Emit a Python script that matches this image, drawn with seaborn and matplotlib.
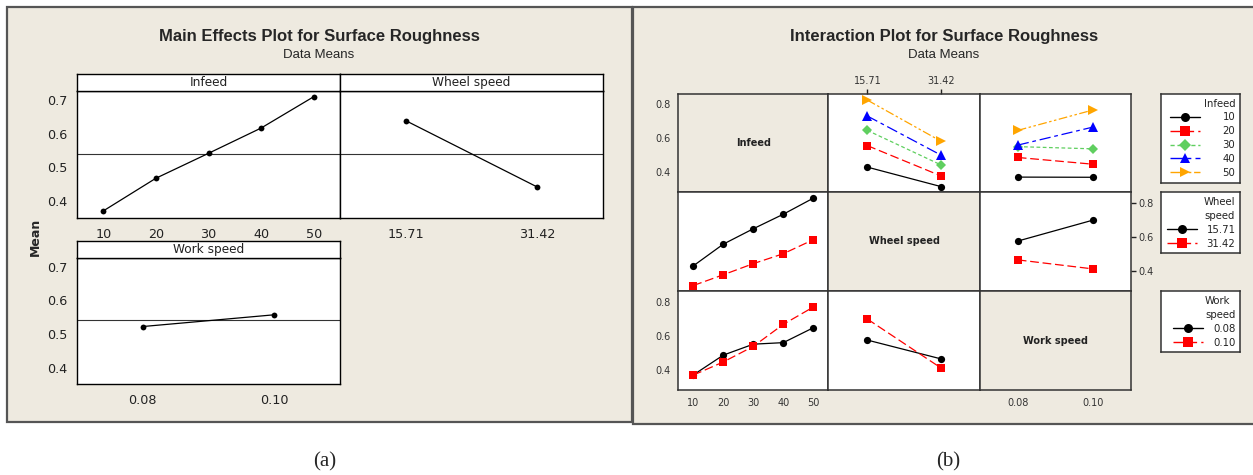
import numpy as np
import pandas as pd
import matplotlib
matplotlib.use("Agg")
import matplotlib.pyplot as plt
import seaborn as sns
from matplotlib.patches import Rectangle
from matplotlib.lines import Line2D

sns.set_theme(style="white")
plt.rcParams["font.family"] = ["DejaVu Sans"]

# ---------------- data ----------------
infeed_levels = [10, 20, 30, 40, 50]
wheel_levels = ["15.71", "31.42"]
work_levels = ["0.08", "0.10"]

# main effects (data means)
infeed_means = [0.371, 0.468, 0.542, 0.617, 0.710]
wheel_means = [0.639, 0.442]
work_means = [0.522, 0.557]
grand_mean = 0.540

# interaction means
infeed_by_wheel_1571 = [0.430, 0.557, 0.647, 0.732, 0.826]
infeed_by_wheel_3142 = [0.315, 0.378, 0.443, 0.501, 0.583]
infeed_by_work_008 = [0.371, 0.487, 0.551, 0.560, 0.647]
infeed_by_work_010 = [0.370, 0.447, 0.538, 0.667, 0.768]
wheel_by_work_008 = [0.575, 0.465]
wheel_by_work_010 = [0.698, 0.412]

# ---------------- styles ----------------
W, H = 1253, 475
BEIGE = "#EEEAE0"
EDGE = "#555555"

infeed_keys = [str(v) for v in infeed_levels]
infeed_pal = dict(zip(infeed_keys, ["black", "#FF0000", "#5FCF5F", "#0000FF", "#FFA500"]))
infeed_mark = dict(zip(infeed_keys, ["o", "s", "D", "^", ">"]))
infeed_dash = dict(zip(infeed_keys, ["", (7, 3), (3, 2), (9, 3, 3, 3), (7, 2, 2, 2, 2, 2)]))
two_pal = ["black", "#FF0000"]
two_mark = ["o", "s"]
two_dash = ["", (7, 3)]
wheel_pal = dict(zip(wheel_levels, two_pal))
wheel_mark = dict(zip(wheel_levels, two_mark))
wheel_dash = dict(zip(wheel_levels, two_dash))
work_pal = dict(zip(work_levels, two_pal))
work_mark = dict(zip(work_levels, two_mark))
work_dash = dict(zip(work_levels, two_dash))
marker_size = {"o": 5.2, "s": 5.2, "D": 5.5, "^": 7.0, ">": 7.0}

# ---------------- tables ----------------
df_inf_wheel = pd.DataFrame({
    "Infeed": infeed_levels * 2,
    "InfeedLab": infeed_keys * 2,
    "Wheel": [wheel_levels[0]] * 5 + [wheel_levels[1]] * 5,
    "Mean": infeed_by_wheel_1571 + infeed_by_wheel_3142,
})
df_inf_wheel["WheelPos"] = df_inf_wheel["Wheel"].map(wheel_levels.index)

df_inf_work = pd.DataFrame({
    "Infeed": infeed_levels * 2,
    "InfeedLab": infeed_keys * 2,
    "Work": [work_levels[0]] * 5 + [work_levels[1]] * 5,
    "Mean": infeed_by_work_008 + infeed_by_work_010,
})
df_inf_work["WorkPos"] = df_inf_work["Work"].map(work_levels.index)

df_wheel_work = pd.DataFrame({
    "Wheel": wheel_levels * 2,
    "Work": [work_levels[0]] * 2 + [work_levels[1]] * 2,
    "Mean": wheel_by_work_008 + wheel_by_work_010,
})
df_wheel_work["WheelPos"] = df_wheel_work["Wheel"].map(wheel_levels.index)
df_wheel_work["WorkPos"] = df_wheel_work["Work"].map(work_levels.index)

df_me_wheel = pd.DataFrame({"Wheel": wheel_levels, "Mean": wheel_means})
df_me_wheel["Pos"] = df_me_wheel["Wheel"].map(wheel_levels.index)
df_me_work = pd.DataFrame({"Work": work_levels, "Mean": work_means})
df_me_work["Pos"] = df_me_work["Work"].map(work_levels.index)
df_me_inf = pd.DataFrame({"Infeed": infeed_levels, "Mean": infeed_means})

# ---------------- figure ----------------
fig = plt.figure(figsize=(W / 100, H / 100), dpi=100)
fig.patch.set_facecolor("white")


def px(x0, y0, x1, y1, **kw):
    return fig.add_axes([x0 / W, 1 - y1 / H, (x1 - x0) / W, (y1 - y0) / H], **kw)


def frame(x0, y0, x1, y1):
    fig.add_artist(Rectangle((x0 / W, 1 - y1 / H), (x1 - x0) / W, (y1 - y0) / H,
                             transform=fig.transFigure, facecolor=BEIGE,
                             edgecolor=EDGE, lw=1.6, zorder=-5))


frame(6.5, 6.5, 632, 422)
frame(632.5, 6.5, 1262, 424)

TFONT = ["Liberation Sans", "DejaVu Sans"]
fig.text(319 / W, 1 - 37 / H, "Main Effects Plot for Surface Roughness", family=TFONT,
         fontsize=12, fontweight="bold", ha="center", va="center")
fig.text(319 / W, 1 - 55 / H, "Data Means", family=TFONT, fontsize=9.5, ha="center", va="center")
fig.text(944 / W, 1 - 37 / H, "Interaction Plot for Surface Roughness", family=TFONT,
         fontsize=12, fontweight="bold", ha="center", va="center")
fig.text(944 / W, 1 - 55 / H, "Data Means", family=TFONT, fontsize=9.5, ha="center", va="center")
fig.text(35 / W, 1 - 237 / H, "Mean", rotation=90, fontsize=9, fontweight="bold",
         ha="center", va="center")
fig.text(325 / W, 1 - 462 / H, "(a)", family=["Liberation Serif", "DejaVu Serif"], fontsize=15,
         ha="center", va="center")
fig.text(948 / W, 1 - 462 / H, "(b)", family=["Liberation Serif", "DejaVu Serif"], fontsize=15,
         ha="center", va="center")

# ---------------- main effects ----------------
ME_YLIM = (0.35, 0.727)
ME_TICKS = [0.4, 0.5, 0.6, 0.7]


def style_me(ax):
    ax.set_facecolor("white")
    for s in ax.spines.values():
        s.set_color("black")
        s.set_linewidth(1.0)
    ax.set_ylim(*ME_YLIM)
    ax.set_xlabel("")
    ax.set_ylabel("")
    ax.tick_params(axis="both", direction="out", length=4, width=1, color="black",
                   labelsize=9.2, labelcolor="#222222", pad=3)


def strip(x0, y0, x1, y1, label):
    s = px(x0, y0, x1, y1)
    s.set_facecolor("white")
    s.set_xticks([])
    s.set_yticks([])
    for sp in s.spines.values():
        sp.set_color("black")
        sp.set_linewidth(1.0)
    s.text(0.5, 0.5, label, ha="center", va="center", fontsize=8.7, color="#222222",
           transform=s.transAxes)


me_kw = dict(color="black", marker="o", markersize=4.2, linewidth=0.9,
             markeredgewidth=0, legend=False)

ax_inf = px(77, 91, 340, 218)
sns.lineplot(data=df_me_inf, x="Infeed", y="Mean", ax=ax_inf, **me_kw)
ax_inf.axhline(grand_mean, color="#333333", lw=0.8, zorder=1)
style_me(ax_inf)
ax_inf.set_xlim(5, 55)
ax_inf.set_xticks(infeed_levels)
ax_inf.set_yticks(ME_TICKS)
strip(77, 74, 340, 91, "Infeed")

ax_wh = px(340, 91, 603, 218)
sns.lineplot(data=df_me_wheel, x="Pos", y="Mean", ax=ax_wh, **me_kw)
ax_wh.axhline(grand_mean, color="#333333", lw=0.8, zorder=1)
style_me(ax_wh)
ax_wh.set_xlim(-0.5, 1.5)
ax_wh.set_xticks(range(len(wheel_levels)))
ax_wh.set_xticklabels(wheel_levels)
ax_wh.set_yticks([])
strip(340, 74, 603, 91, "Wheel speed")

ax_wk = px(77, 257.7, 340, 384.3)
sns.lineplot(data=df_me_work, x="Pos", y="Mean", ax=ax_wk, **me_kw)
ax_wk.axhline(grand_mean, color="#333333", lw=0.8, zorder=1)
style_me(ax_wk)
ax_wk.set_xlim(-0.5, 1.5)
ax_wk.set_xticks(range(len(work_levels)))
ax_wk.set_xticklabels(work_levels)
ax_wk.set_yticks(ME_TICKS)
strip(77, 241, 340, 257.7, "Work speed")

# ---------------- interaction plot ----------------
cols = [678.3, 828.3, 980, 1131]
rows = [94, 192, 291, 390]
IN_YLIM = (0.283, 0.862)
IN_YT = [0.4, 0.6, 0.8]
xlims = [(5, 55), (-0.53, 1.53), (-0.5, 1.5)]
diag = ["Infeed", "Wheel speed", "Work speed"]

cells = [[None] * 3 for _ in range(3)]
for i in range(3):
    for j in range(3):
        a = px(cols[j], rows[i], cols[j + 1], rows[i + 1])
        a.set_facecolor(BEIGE if i == j else "white")
        for s in a.spines.values():
            s.set_color("#333333")
            s.set_linewidth(1.1)
        cells[i][j] = a

lk = dict(linewidth=0.9, markersize=5.2, markeredgewidth=0, legend=False)

sns.lineplot(data=df_inf_wheel, x="WheelPos", y="Mean", hue="InfeedLab", style="InfeedLab",
             palette=infeed_pal, markers=infeed_mark, dashes=infeed_dash,
             hue_order=infeed_keys, style_order=infeed_keys, ax=cells[0][1], **lk)
sns.lineplot(data=df_inf_work, x="WorkPos", y="Mean", hue="InfeedLab", style="InfeedLab",
             palette=infeed_pal, markers=infeed_mark, dashes=infeed_dash,
             hue_order=infeed_keys, style_order=infeed_keys, ax=cells[0][2], **lk)
sns.lineplot(data=df_inf_wheel, x="Infeed", y="Mean", hue="Wheel", style="Wheel",
             palette=wheel_pal, markers=wheel_mark, dashes=wheel_dash,
             hue_order=wheel_levels, style_order=wheel_levels, ax=cells[1][0], **lk)
sns.lineplot(data=df_wheel_work, x="WorkPos", y="Mean", hue="Wheel", style="Wheel",
             palette=wheel_pal, markers=wheel_mark, dashes=wheel_dash,
             hue_order=wheel_levels, style_order=wheel_levels, ax=cells[1][2], **lk)
sns.lineplot(data=df_inf_work, x="Infeed", y="Mean", hue="Work", style="Work",
             palette=work_pal, markers=work_mark, dashes=work_dash,
             hue_order=work_levels, style_order=work_levels, ax=cells[2][0], **lk)
sns.lineplot(data=df_wheel_work, x="WheelPos", y="Mean", hue="Work", style="Work",
             palette=work_pal, markers=work_mark, dashes=work_dash,
             hue_order=work_levels, style_order=work_levels, ax=cells[2][1], **lk)

for i in range(3):
    for j in range(3):
        a = cells[i][j]
        for ln in a.get_lines():
            m = ln.get_marker()
            if m in marker_size:
                ln.set_markersize(marker_size[m])
        a.set_xlim(*xlims[j])
        a.set_ylim(*IN_YLIM)
        a.set_xlabel("")
        a.set_ylabel("")
        a.set_xticks([])
        a.set_yticks([])
        a.tick_params(axis="both", direction="out", length=3.5, width=1, color="#222222",
                      labelsize=7, labelcolor="#333333", pad=2)
        if i == j:
            a.text(0.5, 0.5, diag[i], ha="center", va="center", fontsize=7,
                   fontweight="bold", color="#222222", transform=a.transAxes)

cells[0][0].set_yticks(IN_YT)
cells[0][0].set_yticklabels([f"{v:.1f}" for v in IN_YT])
cells[2][0].set_yticks(IN_YT)
cells[2][0].set_yticklabels([f"{v:.1f}" for v in IN_YT])
cells[1][2].yaxis.tick_right()
cells[1][2].set_yticks(IN_YT)
cells[1][2].set_yticklabels([f"{v:.1f}" for v in IN_YT])
cells[2][0].set_xticks(infeed_levels)
cells[0][1].xaxis.tick_top()
cells[0][1].set_xticks(range(len(wheel_levels)))
cells[0][1].set_xticklabels(wheel_levels)
cells[2][2].set_xticks(range(len(work_levels)))
cells[2][2].set_xticklabels(work_levels)


# ---------------- legends ----------------
def legend_box(x0, y0, x1, y1, title, labels, colors, markers, dashes, msizes, tpad, lsp):
    lax = px(x0, y0, x1, y1)
    lax.set_facecolor("white")
    lax.set_xticks([])
    lax.set_yticks([])
    for s in lax.spines.values():
        s.set_color("#333333")
        s.set_linewidth(1.1)
    handles = []
    for c, m, d, ms in zip(colors, markers, dashes, msizes):
        h = Line2D([], [], color=c, marker=m, markersize=ms, markeredgewidth=0, linewidth=1.0)
        if d:
            h.set_dashes(d)
        handles.append(h)
    leg = lax.legend(handles, labels, title=title, loc="upper right", frameon=False,
                     fontsize=7.3, title_fontsize=7.3, alignment="right", handlelength=3.0,
                     handletextpad=tpad, labelspacing=lsp, borderpad=0.35,
                     borderaxespad=0.1)
    for t in leg.get_texts():
        t.set_color("#222222")
    leg.get_title().set_color("#222222")
    leg.get_title().set_linespacing(1.5)


legend_box(1161, 94, 1240, 183, "Infeed", infeed_keys,
           [infeed_pal[k] for k in infeed_keys], [infeed_mark[k] for k in infeed_keys],
           [infeed_dash[k] for k in infeed_keys], [6.5, 6.5, 6.5, 7.5, 7.5], 2.2, 0.38)
legend_box(1161, 192, 1240, 253, "Wheel\nspeed", wheel_levels, two_pal, two_mark, two_dash,
           [6.5, 6.5], 0.9, 0.4)
legend_box(1161, 291, 1240, 352, "Work\nspeed", work_levels, two_pal, two_mark, two_dash,
           [6.5, 6.5], 1.0, 0.4)

fig.savefig("out.png", dpi=100, facecolor="white")
